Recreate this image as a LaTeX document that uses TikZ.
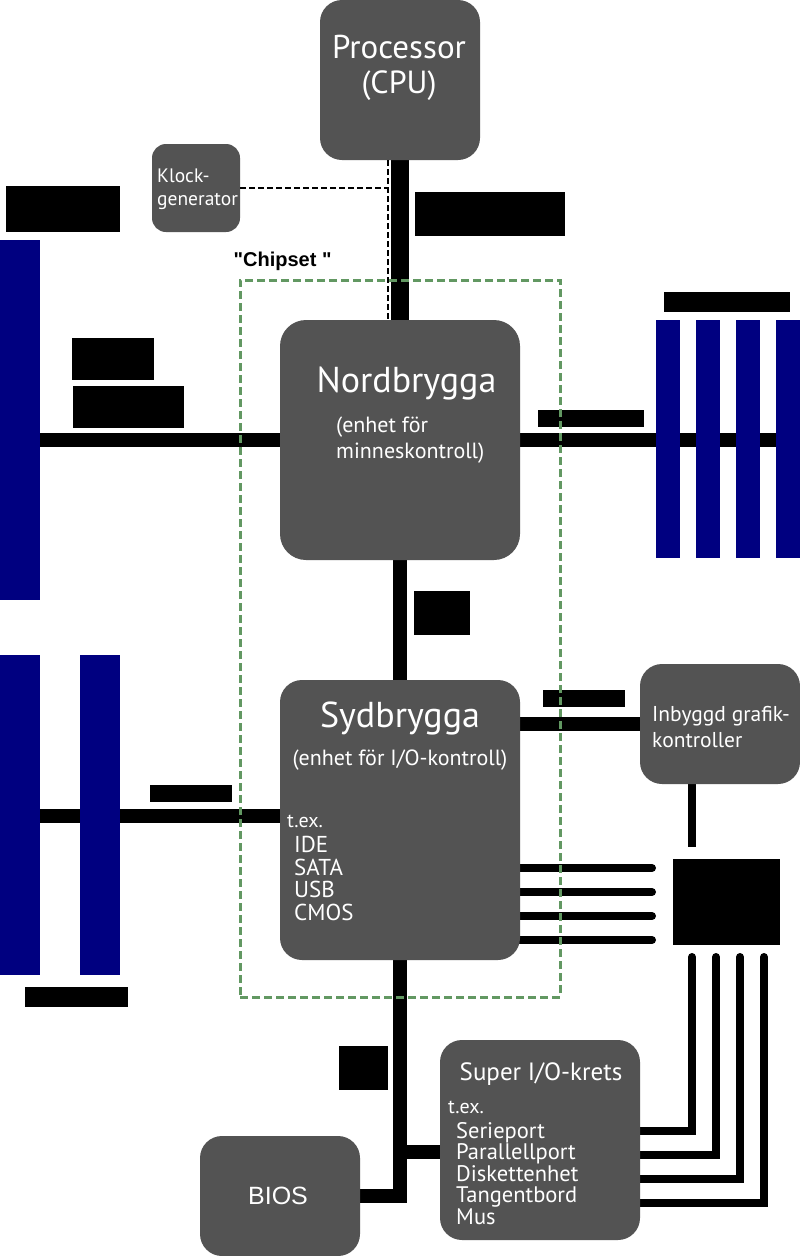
\documentclass[tikz,border=0pt]{standalone}
\usepackage{fontspec}
\setmainfont{PT Sans}
\newfontfamily\arialfont{Liberation Sans}
\usetikzlibrary{positioning,backgrounds}
\definecolor{chipgray}{RGB}{83,83,83}
\definecolor{slotblue}{RGB}{0,0,128}
\definecolor{chipsetgreen}{RGB}{98,152,98}
\tikzset{
    chip/.style={fill=chipgray, rounded corners=22pt, inner sep=0pt, outer sep=0pt},
    slot/.style={fill=slotblue, inner sep=0pt, outer sep=0pt},
    bus/.style={line width=14pt},
    wire/.style={line width=8pt, line cap=round},
    clockline/.style={line width=2pt, dash pattern=on 6pt off 3pt},
    lbl/.style={text=white, inner sep=0pt, anchor=base west},
    clbl/.style={text=white, inner sep=0pt, anchor=base},
    titlefont/.style={font=\fontsize{36}{36}\selectfont},
    subfont/.style={font=\fontsize{22}{22}\selectfont},
    itemfont/.style={font=\fontsize{22.5}{22.5}\selectfont},
    smallfont/.style={font=\fontsize{20}{20}\selectfont},
}
\begin{document}
\begin{tikzpicture}[x=1pt,y=-1pt]
    \useasboundingbox (0,0) rectangle (800,1256);
    \node[chip, minimum width=160, minimum height=160] (cpu) at (400,80) {};
    \node[chip, minimum width=88, minimum height=88, rounded corners=14pt] (klock) at (196,188) {};
    \node[chip, minimum width=240, minimum height=240, rounded corners=26pt] (nb) at (400,440) {};
    \node[chip, minimum width=240, minimum height=280] (sb) at (400,820) {};
    \node[chip, minimum width=160, minimum height=120] (gfx) at (720,724) {};
    \node[chip, minimum width=200, minimum height=200] (sio) at (540,1140) {};
    \node[chip, minimum width=160, minimum height=120] (bios) at (280,1196) {};
    \node[slot, minimum width=40, minimum height=360] (agp) at (20,420) {};
    \node[slot, minimum width=40, minimum height=320] (pci1) at (20,815) {};
    \node[slot, minimum width=40, minimum height=320] (pci2) at (100,815) {};
    \foreach \i/\x in {1/668,2/708,3/748,4/788}
        \node[slot, minimum width=24, minimum height=238] (ram\i) at (\x,439) {};
    \node[fill=black, inner sep=0pt, minimum width=107, minimum height=86] (screen) at (726.5,902) {};
    \coordinate (vga) at (692,847);
    \foreach \i/\x in {1/692,2/716,3/740,4/764}
        \coordinate (port\i) at (\x,957);
    \begin{scope}[on background layer]
        \draw[bus, line width=18pt] (cpu.south) -- (nb.north);
        \draw[bus] (nb.west) -- (nb.west -| agp.east);
        \draw[bus] (nb.east) -- (nb.east -| ram4.east);
        \draw[bus] (nb.south) -- (sb.north);
        \draw[bus] ([yshift=4pt]sb.west) -- ([yshift=4pt]sb.west -| pci1.east);
        \draw[bus] (gfx.west -| sb.east) -- (gfx.west);
        \draw[bus] (sb.south) -- (sb.south |- bios.east) -- (bios.east);
        \draw[bus] ([yshift=-12pt]sio.west -| sb.south) -- ([yshift=-12pt]sio.west);
        \draw[wire, line cap=butt] (gfx.south -| vga) -- (vga);
        \foreach \y in {868,892,916,940}
            \draw[wire] (sb.east |- 0,\y) -- (652,\y);
        \foreach \i/\y in {1/1131,2/1155,3/1179,4/1203}
            \draw[wire] (sio.east |- 0,\y) -| (port\i);
    \end{scope}
    \coordinate (tap) at (388,188);
    \draw[clockline] (klock.east) -- (tap);
    \draw[clockline] (cpu.south -| tap) -- (nb.north -| tap);
    \foreach \xa/\ya/\xb/\yb in {6/186/120/232, 72/338/154/380, 73/386/184/428, 415/192/565/236,
        664/292/790/312, 538/410/644/427, 414/591/470/635, 543/690/625/707,
        150/785/232/802, 25/987/128/1007, 339/1046/388/1090}
        \fill (\xa,\ya) rectangle (\xb,\yb);
    \node[draw=chipsetgreen, line width=3pt, dash pattern=on 8pt off 4pt, inner sep=0pt,
        minimum width=320, minimum height=717] (chipset) at (400,638.5) {};
    \node[anchor=base west, inner sep=0pt, font=\arialfont\bfseries\fontsize{20}{20}\selectfont]
        (chipsetlbl) at ([xshift=-5pt, yshift=12pt]chipset.north west) {"Chipset "};
    \node[clbl, font=\fontsize{33}{33}\selectfont] (cpuname) at (399,58) {Processor};
    \node[clbl, font=\fontsize{32}{32}\selectfont] (cpusub) at (399,93) {(CPU)};
    \node[lbl, font=\fontsize{19.5}{19.5}\selectfont] (klock1) at (157,182) {Klock-};
    \node[lbl, font=\fontsize{19.5}{19.5}\selectfont] (klock2) at (157,205) {generator};
    \node[clbl, titlefont] (nbname) at (406.5,392) {Nordbrygga};
    \node[lbl, subfont] (nbsub1) at (336,432) {(enhet för};
    \node[lbl, subfont] (nbsub2) at (336,458) {minneskontroll)};
    \node[clbl, titlefont] (sbname) at (400,727) {Sydbrygga};
    \node[clbl, subfont] (sbsub) at (400,765) {(enhet för I/O-kontroll)};
    \node[lbl, smallfont] (sbex) at (287,827) {t.ex.};
    \foreach \t [count=\i] in {IDE,SATA,USB,CMOS}
        \node[lbl, itemfont, font=\fontsize{23}{23}\selectfont] (sbitem\i) at (294,830+22.6*\i) {\t};
    \node[lbl, font=\fontsize{21.5}{21.5}\selectfont] (gfx1) at (652,721) {Inbyggd grafik-};
    \node[lbl, font=\fontsize{21.5}{21.5}\selectfont] (gfx2) at (652,747) {kontroller};
    \node[clbl, font=\fontsize{25}{25}\selectfont] (sioname) at (541,1080) {Super I/O-krets};
    \node[lbl, smallfont] (sioex) at (448,1113) {t.ex.};
    \foreach \t [count=\i] in {Serieport,Parallellport,Diskettenhet,Tangentbord,Mus}
        \node[lbl, itemfont] (sioitem\i) at (456,1116.5+21.6*\i) {\t};
    \node[clbl, font=\arialfont\fontsize{25}{25}\selectfont] (biosname) at (278,1204) {BIOS};
\end{tikzpicture}
\end{document}
